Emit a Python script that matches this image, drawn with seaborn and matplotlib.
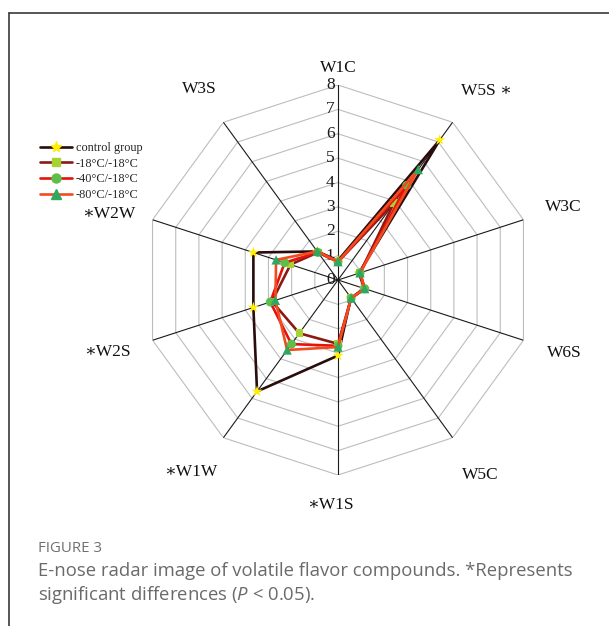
import numpy as np
import pandas as pd
import matplotlib
matplotlib.use("Agg")
import matplotlib.pyplot as plt
from matplotlib.lines import Line2D
import seaborn as sns

# Sensor axes, clockwise from the top
sensors = ["W1C", "W5S", "W3C", "W6S", "W5C", "W1S", "W1W", "W2S", "W2W", "W3S"]
significant = [False, True, False, False, False, True, True, True, True, False]

groups = ["control group", "-18\u00b0C/-18\u00b0C", "-40\u00b0C/-18\u00b0C", "-80\u00b0C/-18\u00b0C"]
control = [0.80, 7.10, 0.90, 1.15, 0.90, 3.10, 5.65, 3.65, 3.65, 1.45]
frozen_18 = [0.75, 3.90, 0.95, 1.15, 0.92, 2.62, 2.70, 2.85, 2.05, 1.40]
frozen_40 = [0.75, 4.80, 0.95, 1.15, 0.92, 2.70, 3.25, 2.92, 2.30, 1.40]
frozen_80 = [0.75, 5.60, 0.95, 1.15, 0.92, 2.75, 3.55, 2.70, 2.67, 1.45]

ticks = [0, 1, 2, 3, 4, 5, 6, 7, 8]

series = [control, frozen_18, frozen_40, frozen_80]
line_colors = ["#2a0c0c", "#8a1a14", "#e3120b", "#f44a1f"]
marker_colors = ["#ffee00", "#a6d233", "#5cbf4a", "#2ea860"]
marker_shapes = ["*", "s", "o", "^"]
marker_sizes = [70, 30, 42, 45]

sns.set_theme(style="white")
plt.rcParams["font.family"] = ["Liberation Serif", "DejaVu Serif"]
plt.rcParams["mathtext.fontset"] = "custom"
plt.rcParams["mathtext.rm"] = "Open Sans"
plt.rcParams["mathtext.it"] = "Open Sans:italic"

fig = plt.figure(figsize=(6.09, 6.26), dpi=100)
fig.patch.set_facecolor("white")

ax = fig.add_axes([0.2348, 0.2412, 0.6404, 0.6230], projection="polar")
ax.set_theta_zero_location("N")
ax.set_theta_direction(-1)
ax.set_ylim(0, ticks[-1])
ax.grid(False)
ax.set_xticks([])
ax.set_yticks([])
ax.spines["polar"].set_visible(False)
ax.set_facecolor("none")

n = len(sensors)
theta = np.linspace(0, 2 * np.pi, n, endpoint=False)
theta_closed = np.append(theta, 2 * np.pi)

# polygonal grid rings and spokes
for k in ticks[1:]:
    ax.plot(theta_closed, [k] * (n + 1), color="#bdbdbd", lw=0.8, zorder=1)
for t in theta:
    ax.plot([t, t], [0, ticks[-1]], color="#1a1a1a", lw=0.8, zorder=2)

# value labels along the top spoke
for k in ticks:
    ax.annotate(str(k), xy=(0, k), xytext=(-2.5, 0), textcoords="offset points",
                ha="right", va="center", fontsize=12.5, color="#1a1a1a", zorder=3)

# sensor names around the chart
label_r = [8.7, 9.6, 9.7, 9.75, 9.9, 9.25, 9.75, 9.6, 9.55, 9.7]
label_dy = [0, 0, 0, 0, 0, 0, 0, 0, -4.5, 0]
for t, name, sig, r, dy in zip(theta, sensors, significant, label_r, label_dy):
    if sig and name == "W5S":
        text, shift = name + " \u2217", 7.5
    elif sig:
        text, shift = "\u2217" + name, -5.5
    else:
        text, shift = name, 0
    ax.annotate(text, xy=(t, r), xytext=(shift, dy), textcoords="offset points",
                ha="center", va="center", fontsize=12.5, color="#111111",
                annotation_clip=False)

# data series
for i, (vals, name) in enumerate(zip(series, groups)):
    closed = np.append(vals, vals[0])
    df = pd.DataFrame({"theta": theta_closed, "value": closed})
    sns.lineplot(data=df, x="theta", y="value", sort=False, estimator=None,
                 color=line_colors[i], lw=1.9, ax=ax, zorder=4 + 2 * i, legend=False)
    pts = pd.DataFrame({"theta": theta, "value": vals})
    sns.scatterplot(data=pts, x="theta", y="value", marker=marker_shapes[i],
                    s=marker_sizes[i], color=marker_colors[i], edgecolor="none",
                    linewidth=0, ax=ax, zorder=5 + 2 * i, legend=False)
ax.set_xlabel("")
ax.set_ylabel("")
ax.set_xticks([])
ax.set_yticks([])
ax.set_ylim(0, ticks[-1])

handles = [
    Line2D([], [], color=line_colors[i], lw=1.9, marker=marker_shapes[i],
           markerfacecolor=marker_colors[i], markeredgecolor=marker_colors[i],
           markersize=[8, 5.5, 6.5, 6.5][i])
    for i in range(len(groups))
]
fig.legend(handles, groups, loc="upper left", bbox_to_anchor=(0.066, 0.773),
           frameon=False, fontsize=8.8, handlelength=2.6, handletextpad=0.3,
           labelspacing=0.3, borderpad=0, borderaxespad=0)

# card border
fig.add_artist(Line2D([9 / 609, 9 / 609], [0, 1 - 13 / 626], color="#3a3a3a", lw=1.2,
                      transform=fig.transFigure))
fig.add_artist(Line2D([9 / 609, 1], [1 - 13 / 626, 1 - 13 / 626], color="#3a3a3a", lw=1.2,
                      transform=fig.transFigure))

# caption
fig.text(38 / 609, 1 - 548 / 626, "FIGURE 3", family="Open Sans", fontsize=10.8,
         color="#707070", va="center", ha="left")
fig.text(38 / 609, 1 - 571 / 626,
         "E-nose radar image of volatile flavor compounds. *Represents",
         family="Open Sans", fontsize=13.3, color="#6a6a6a", va="center", ha="left")
fig.text(38 / 609, 1 - 595 / 626,
         "significant differences ($\\mathit{P}$ < 0.05).",
         family="Open Sans", fontsize=13.3, color="#6a6a6a", va="center", ha="left")

fig.savefig("out.png", dpi=100, facecolor="white")
